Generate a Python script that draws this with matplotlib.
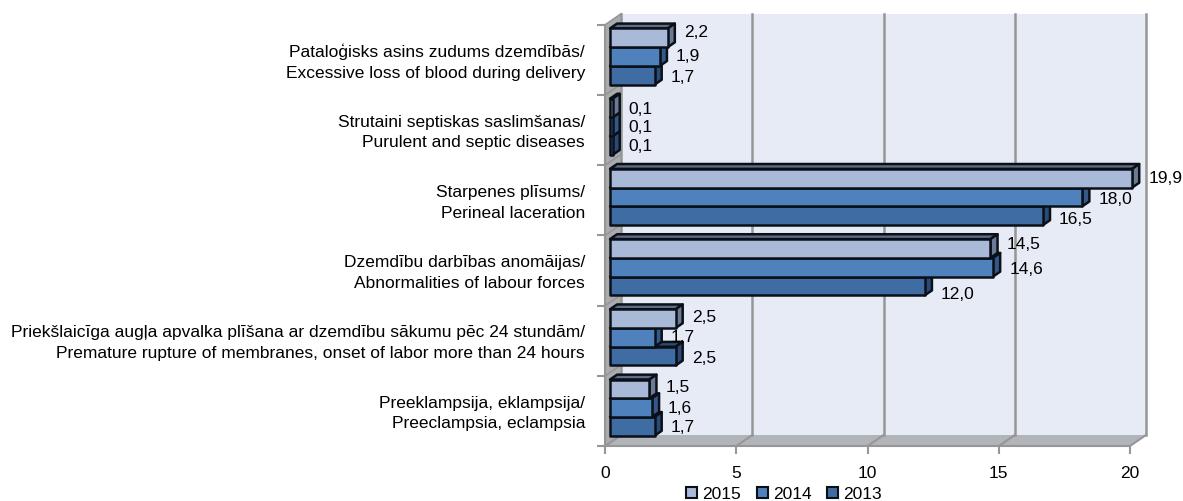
import matplotlib
matplotlib.use("Agg")
import matplotlib.pyplot as plt
from matplotlib.patches import Polygon, Patch
from matplotlib.transforms import IdentityTransform

plt.rcParams['font.family'] = ['Liberation Sans', 'DejaVu Sans']

categories = [
    "Pataloģisks asins zudums dzemdībās/\nExcessive loss of blood during delivery",
    "Strutaini septiskas saslimšanas/\nPurulent and septic diseases",
    "Starpenes plīsums/\nPerineal laceration",
    "Dzemdību darbības anomāijas/\nAbnormalities of labour forces",
    "Priekšlaicīga augļa apvalka plīšana ar dzemdību sākumu pēc 24 stundām/\nPremature rupture of membranes, onset of labor more than 24 hours",
    "Preeklampsija, eklampsija/\nPreeclampsia, eclampsia",
]
years = ["2015", "2014", "2013"]
v2015 = [2.2, 0.1, 19.9, 14.5, 2.5, 1.5]
v2014 = [1.9, 0.1, 18.0, 14.6, 1.7, 1.6]
v2013 = [1.7, 0.1, 16.5, 12.0, 2.5, 1.7]
xticks = [0, 5, 10, 15, 20]

# bar colours: front, side, top
colors = {"2015": ("#A9B9D8", "#6B7A96", "#5F6C86"),
          "2014": ("#4F81BD", "#34588A", "#34588A"),
          "2013": ("#3F6CA2", "#2A4B78", "#2A4B78")}
# hand nudges for the data labels (px, down is positive)
label_dy = [[-6.5, -1, 1], [0, 0, 0], [-1, 2, 3], [-5, 1.5, 8], [-2, -1, 1.5], [-2, 0, 0.5]]

W, H = 1183, 502
DX, DY = 16, 11  # wall depth in px
FS = 12.55

fig = plt.figure(figsize=(W / 100, H / 100), dpi=100)
L, R, T, B = 605.25, 1130, 25.7, 447
ax = fig.add_axes([L / W, 1 - B / H, (R - L) / W, (B - T) / H])
ax.set_xlim(0, 20)
ax.set_ylim(6, 0)
ax.patch.set_visible(False)
for s in ax.spines.values():
    s.set_visible(False)
ax.set_xticks(xticks)
ax.set_yticks(range(7))
ax.set_yticklabels([])
ax.tick_params(axis='x', length=6, width=1.5, color="#969696", labelsize=FS, pad=8)
ax.tick_params(axis='y', length=6, width=1.5, color="#969696")


def pt(x, y, d):
    px, py = ax.transData.transform((x, y))
    return (px + d * DX, py + d * DY)


def poly(pts, **kw):
    p = Polygon([pt(*q) for q in pts], closed=True, transform=IdentityTransform(),
                clip_on=False, **kw)
    ax.add_patch(p)
    return p


def line(a, b, **kw):
    xy = [pt(*a), pt(*b)]
    ax.plot([xy[0][0], xy[1][0]], [xy[0][1], xy[1][1]], transform=IdentityTransform(),
            clip_on=False, **kw)


gray = "#969696"
# walls
poly([(0, 6, 1), (20, 6, 1), (20, 0, 1), (0, 0, 1)], fc="#E6EBF5", ec="none", zorder=1)
poly([(0, 6, 0), (0, 0, 0), (0, 0, 1), (0, 6, 1)], fc="#A9ABAE", ec="none", zorder=1)
poly([(0, 6, 0), (20, 6, 0), (20, 6, 1), (0, 6, 1)], fc="#B1B5B9", ec="none", zorder=1)
line((0, 0, 0), (0, 6, 0), color=gray, lw=1.5, zorder=2)
line((0, 6, 0), (20, 6, 0), color=gray, lw=1.5, zorder=2)
for t in xticks:
    line((t, 6, 1), (t, 0, 1), color=gray, lw=1.8, zorder=2)
    line((t, 6, 0), (t, 6, 1), color=gray, lw=1.5, zorder=2)
for i in range(7):
    line((0, i, 0), (0, i, 1), color=gray, lw=1.2, zorder=2)

# bars, front of depth 0.3 to 0.74
d0, d1 = 0.3, 0.74
bh = 0.8 / 3
series = [v2015, v2014, v2013]
for i in range(len(categories) - 1, -1, -1):
    for j in range(2, -1, -1):
        v = series[j][i]
        y0 = i + 0.1 + j * bh
        y1 = y0 + bh
        front, side, top = colors[years[j]]
        kw = dict(ec="#0B1018", lw=1.8, joinstyle='round', zorder=3)
        poly([(0, y0, d0), (v, y0, d0), (v, y0, d1), (0, y0, d1)], fc=top, **kw)
        poly([(v, y0, d0), (v, y1, d0), (v, y1, d1), (v, y0, d1)], fc=side, **kw)
        poly([(0, y0, d0), (v, y0, d0), (v, y1, d0), (0, y1, d0)], fc=front, **kw)
        bx, by = pt(v, y0 + bh / 2, d0)
        ex, _ = pt(v, y0, d1)
        ax.text(ex + 9, by - label_dy[i][j], f"{v:.1f}".replace(".", ","),
                transform=IdentityTransform(), fontsize=FS, ha="left", va="center",
                clip_on=False, zorder=5)

# category labels
for i, c in enumerate(categories):
    ax.text(585 / W, 1 - (T + (i + 0.5) * (B - T) / 6 + 1.5) / H, c, transform=fig.transFigure,
            ha="right", va="center", fontsize=FS, linespacing=1.48, multialignment="right")

handles = [Patch(fc=colors[y][0], ec="#0B1018", lw=1.5, label=y) for y in years]
fig.legend(handles=handles, loc="center", bbox_to_anchor=(784 / W, 1 - 495 / H), ncol=3,
           frameon=False, fontsize=FS, handlelength=0.63, handleheight=0.63, handletextpad=0.29,
           columnspacing=0.92, borderpad=0, labelspacing=0)

fig.savefig("out.png", dpi=100)
